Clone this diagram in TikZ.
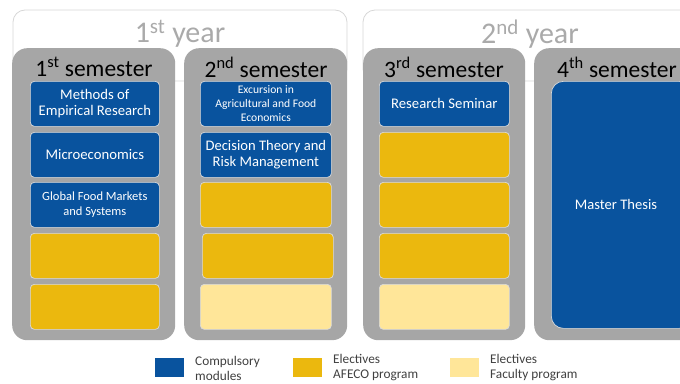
\documentclass[tikz,border=0pt]{standalone}
\usepackage{fontspec}
\setmainfont{Carlito}
\definecolor{cblue}{RGB}{9,83,158}
\definecolor{cyel}{RGB}{235,184,14}
\definecolor{clight}{RGB}{255,230,153}
\definecolor{semgray}{RGB}{166,166,166}
\definecolor{yeargray}{RGB}{170,170,170}
\definecolor{framegray}{RGB}{215,215,215}
\definecolor{edgegray}{RGB}{218,218,218}
\definecolor{legtext}{RGB}{64,64,64}
\begin{document}
\begin{tikzpicture}[x=1pt,y=-1pt,
  yearbox/.style={draw=framegray,line width=0.8pt,rounded corners=12pt,fill=white},
  yearlabel/.style={text=yeargray,font=\fontsize{30}{32}\selectfont,inner sep=0pt},
  sembox/.style={fill=semgray,rounded corners=15pt,anchor=north west,inner sep=0pt,minimum height=292pt},
  semlabel/.style={text=black,font=\fontsize{23.5}{25}\selectfont,inner sep=0pt},
  modbox/.style={draw=edgegray,line width=0.7pt,rounded corners=4pt,anchor=north west,inner sep=0pt,minimum height=45pt,text=white,align=center},
  comp/.style={modbox,fill=cblue},
  elec/.style={modbox,fill=cyel},
  fac/.style={modbox,fill=clight},
  legsq/.style={anchor=north west,inner sep=0pt,minimum width=29pt,minimum height=19pt},
  legtxt/.style={anchor=west,text=legtext,font=\fontsize{13.3}{15}\selectfont,align=left,inner sep=0pt}
]
\useasboundingbox (0,0) rectangle (680,383);
\begin{scope}
\clip (0,0) rectangle (680,383);
% year frames
\draw[yearbox] (13,10) rectangle (347,81);
\draw[yearbox] (363,10) rectangle (720,81);
\node[yearlabel] (y1) at (180,34) {1\textsuperscript{st} year};
\node[yearlabel] (y2) at (530,34) {2\textsuperscript{nd} year};
% semesters
\node[sembox,minimum width=163pt] (s1) at (12,48) {};
\node[sembox,minimum width=163pt] (s2) at (184,48) {};
\node[sembox,minimum width=162pt] (s3) at (363,48) {};
\node[sembox,minimum width=180pt] (s4) at (534,48) {};
\node[semlabel] (s1l) at (94,67) {1\textsuperscript{st} semester};
\node[semlabel] (s2l) at (266,67) {2\textsuperscript{nd} semester};
\node[semlabel] (s3l) at (444,67) {3\textsuperscript{rd} semester};
\node[semlabel] (s4l) at (617,67) {4\textsuperscript{th} semester};
% semester 1
\node[comp,minimum width=129pt,font=\fontsize{14.7}{16}\selectfont] (m11) at (30,81) {Methods of\\Empirical Research};
\node[comp,minimum width=129pt,font=\fontsize{14.7}{16}\selectfont] (m12) at (30,132) {Microeconomics};
\node[comp,minimum width=129pt,font=\fontsize{12.5}{15}\selectfont] (m13) at (30,182) {Global Food Markets\\and Systems};
\node[elec,minimum width=129pt] (m14) at (30,233) {};
\node[elec,minimum width=129pt] (m15) at (30,284) {};
% semester 2
\node[comp,minimum width=131pt,font=\fontsize{11.6}{14}\selectfont] (m21) at (200,81) {Excursion in\\Agricultural and Food\\Economics};
\node[comp,minimum width=131pt,font=\fontsize{14.6}{16}\selectfont] (m22) at (200,132) {Decision Theory and\\Risk Management};
\node[elec,minimum width=131pt] (m23) at (200,182) {};
\node[elec,minimum width=131pt] (m24) at (202,233) {};
\node[fac,minimum width=131pt] (m25) at (200,284) {};
% semester 3
\node[comp,minimum width=130pt,font=\fontsize{14.7}{16}\selectfont] (m31) at (379,81) {Research Seminar};
\node[elec,minimum width=130pt] (m32) at (379,132) {};
\node[elec,minimum width=130pt] (m33) at (379,182) {};
\node[elec,minimum width=130pt] (m34) at (379,233) {};
\node[fac,minimum width=130pt] (m35) at (379,284) {};
% semester 4
\node[comp,rounded corners=12pt,minimum width=140pt,minimum height=247pt] (m41) at (551,81) {};
\node[text=white,font=\fontsize{14.6}{16}\selectfont,inner sep=0pt] (mt) at (616,204) {Master Thesis};
\end{scope}
% legend
\node[legsq,fill=cblue] (l1) at (155,358) {};
\node[legtxt] (l1t) at (195,368) {Compulsory\\modules};
\node[legsq,fill=cyel] (l2) at (293,358) {};
\node[legtxt] (l2t) at (333,368) {Electives\\AFECO program};
\node[legsq,fill=clight] (l3) at (450,358) {};
\node[legtxt] (l3t) at (490,368) {Electives\\Faculty program};
\end{tikzpicture}
\end{document}
